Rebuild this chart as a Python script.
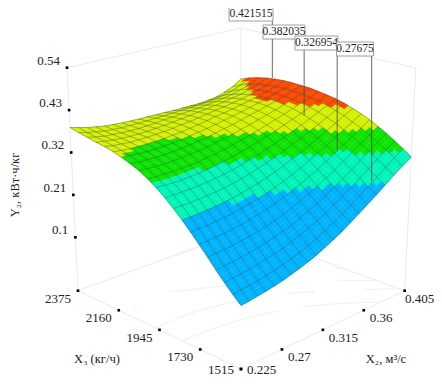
import numpy as np, pandas as pd, altair as alt
alt.data_transformers.disable_max_rows()

# ---------- data ----------
X3_GRID_START, X3_GRID_STEP = 1515, 43      # rows of HEIGHTS
X2_GRID_START, X2_GRID_STEP = 0.225, 0.009  # columns of HEIGHTS
# Y2 in thousandths, estimated from the surface edges and colour boundaries
HEIGHTS = [
 [113,115,118,121,125,129,135,141,148,156,166,177,188,202,216,231,246,262,279,294,309],
 [131,133,136,138,142,146,151,157,164,172,181,192,204,216,230,245,260,276,293,309,324],
 [151,153,155,158,161,165,170,175,182,190,199,209,220,232,246,260,275,291,307,323,338],
 [172,174,176,178,181,185,189,195,201,208,217,227,237,249,262,276,290,306,321,337,352],
 [195,196,197,199,202,205,209,214,220,227,236,245,255,266,278,291,305,320,335,350,364],
 [217,218,219,221,223,226,230,235,240,247,254,263,272,283,294,307,320,333,347,362,376],
 [239,240,240,242,244,246,250,254,259,265,272,280,289,299,310,321,333,346,359,372,386],
 [260,260,261,262,264,266,269,273,278,283,290,297,305,315,324,335,346,358,370,382,394],
 [280,280,280,281,282,284,287,290,295,300,306,313,320,329,338,347,357,368,379,390,402],
 [298,298,298,298,299,301,303,306,310,315,321,327,334,341,350,358,367,377,387,397,408],
 [315,314,313,313,314,315,318,321,324,329,334,339,346,353,360,368,376,385,394,403,412],
 [329,327,327,326,327,328,330,333,336,340,345,350,356,362,369,376,383,391,399,407,416],
 [341,339,338,337,338,339,341,343,346,350,354,359,364,370,376,382,388,395,403,410,419],
 [350,348,347,346,346,347,349,351,354,357,361,366,370,375,381,386,392,398,405,412,420],
 [358,356,354,353,353,354,355,357,360,363,366,370,374,379,383,388,394,399,406,413,421],
 [364,361,359,358,358,358,359,361,363,366,369,373,377,380,384,389,393,399,405,412,421],
 [369,365,363,361,361,361,362,363,365,368,370,373,377,380,383,387,391,396,402,409,419],
 [372,368,365,363,362,362,362,364,365,367,370,372,375,377,380,383,387,391,397,405,416],
 [376,371,367,365,363,362,362,363,364,366,367,369,371,372,374,377,380,384,391,399,411],
 [380,374,370,366,364,362,362,362,362,363,363,364,365,366,367,368,371,375,381,391,404],
 [385,379,373,369,365,363,361,360,359,359,358,358,357,357,357,357,359,362,369,379,395],
]
X3_TICKS = [2375, 2160, 1945, 1730, 1515]
X2_TICKS = [0.225, 0.27, 0.315, 0.36, 0.405]
Y_TICKS = [0.54, 0.43, 0.32, 0.21, 0.1]
Y_LABELS = ['0.54', '0.43', '0.32', '0.21', '0.1']
X2_LABELS = ['0.225', '0.27', '0.315', '0.36', '0.405']
PIN_VALUES = [0.421515, 0.382035, 0.326954, 0.27675]
PIN_LABELS = ['0.421515', '0.382035', '0.326954', '0.27675']
PIN_X3 = [2214, 1930, 1728, 1541]
PIN_X2 = [0.404, 0.378, 0.371, 0.369]
BAND_LIMITS = [0.263, 0.32, 0.358, 0.397]
BAND_COLOURS = ['#00B4FF', '#00F5B9', '#0CE600', '#D6F000', '#FF4A00']

# ---------- view ----------
Y_FLOOR, Y_TOP = -0.0385, 0.54
FONT = 'Liberation Serif'
F = (241, 369.0); L = (78, 290.7); R = (404.7, 290.7); B = (241, 231.0)
SCALE_F, SCALE_L, SCALE_R, SCALE_B = 419.0, 385.5, 385.0, 351.0
T = np.array(HEIGHTS) / 1000
N = T.shape[0] - 1
def ua(x3): return (x3 - X3_GRID_START) / (N * X3_GRID_STEP)
def ub(x2): return (x2 - X2_GRID_START) / (N * X2_GRID_STEP)
def project(a, b, y):
    w = [(1 - a) * (1 - b), a * (1 - b), (1 - a) * b, a * b]
    bx = w[0] * F[0] + w[1] * L[0] + w[2] * R[0] + w[3] * B[0]
    by = w[0] * F[1] + w[1] * L[1] + w[2] * R[1] + w[3] * B[1]
    s = w[0] * SCALE_F + w[1] * SCALE_L + w[2] * SCALE_R + w[3] * SCALE_B
    h = y - Y_FLOOR
    return float(bx + (bx - 241) / 163 * 11 * h / (Y_TOP - Y_FLOOR)), float(by - s * h)

xs = alt.Scale(domain=[8, 434], range=[0, 426], nice=False, zero=False)
ys = alt.Scale(domain=[8, 376], range=[0, 368], nice=False, zero=False)
X = alt.X('x:Q', scale=xs, axis=None)
YY = alt.Y('y:Q', scale=ys, axis=None)

# surface patches, back to front, each mesh cell split in four for the colour steps
rows = []; cid = 0; K = 2
for i in range(N - 1, -1, -1):
    for j in range(N - 1, -1, -1):
        for si in range(K - 1, -1, -1):
            for sj in range(K - 1, -1, -1):
                def val(u, v):
                    return (1-u)*(1-v)*T[i, j] + u*(1-v)*T[i+1, j] + (1-u)*v*T[i, j+1] + u*v*T[i+1, j+1]
                cs = [(si/K, sj/K), ((si+1)/K, sj/K), ((si+1)/K, (sj+1)/K), (si/K, (sj+1)/K)]
                vs = [val(*c) for c in cs]; m = float(np.mean(vs))
                for o, (c, v) in enumerate(zip(cs, vs)):
                    x, y = project((i + c[0]) / N, (j + c[1]) / N, v)
                    rows.append(dict(c=cid, o=o, x=round(x, 1), y=round(y, 1), v=round(m, 4)))
                cid += 1
band = alt.Scale(type='threshold', domain=BAND_LIMITS, range=BAND_COLOURS)
surf = alt.Chart(pd.DataFrame(rows)).mark_line(interpolate='linear-closed', strokeWidth=0.4).encode(
    x=X, y=YY, order='o:Q', detail='c:N',
    fill=alt.Fill('v:Q', scale=band, legend=None), stroke=alt.Stroke('v:Q', scale=band, legend=None))

# mesh
ml = []
for i in range(N + 1):
    for j in range(N + 1):
        x, y = project(i / N, j / N, T[i, j]); ml.append(dict(l=f"a{i}", o=j, x=x, y=y))
for j in range(N + 1):
    for i in range(N + 1):
        x, y = project(i / N, j / N, T[i, j]); ml.append(dict(l=f"b{j}", o=i, x=x, y=y))
mesh = alt.Chart(pd.DataFrame(ml)).mark_line(color='#1c3a3a', strokeWidth=.6, opacity=.6).encode(
    x=X, y=YY, order='o:Q', detail='l:N')

# pale contours on the floor
fl = []; fid = 0
for lev in BAND_LIMITS:
    for i in range(N):
        for j in range(N):
            c = [(i, j), (i+1, j), (i+1, j+1), (i, j+1)]; cr = []
            for n in range(4):
                p, q = c[n], c[(n+1) % 4]; vp, vq = T[p], T[q]
                if (vp - lev) * (vq - lev) < 0:
                    t = (lev - vp) / (vq - vp)
                    cr.append(((p[0] + t*(q[0]-p[0])) / N, (p[1] + t*(q[1]-p[1])) / N))
            if len(cr) == 2:
                for o, (a, b) in enumerate(cr):
                    x, y = project(a, b, Y_FLOOR); fl.append(dict(l=fid, o=o, x=x, y=y))
                fid += 1
floor = alt.Chart(pd.DataFrame(fl)).mark_line(color='#f1f1e6', strokeWidth=1).encode(
    x=X, y=YY, order='o:Q', detail='l:N')

# box edges
seg = []
EDGES = [((1,0,Y_FLOOR),(1,0,Y_TOP)), ((0,1,Y_FLOOR),(0,1,Y_TOP)), ((1,1,Y_FLOOR),(1,1,Y_TOP)),
         ((1,0,Y_TOP),(1,1,Y_TOP)), ((0,1,Y_TOP),(1,1,Y_TOP)),
         ((0,0,Y_FLOOR),(1,0,Y_FLOOR)), ((0,0,Y_FLOOR),(0,1,Y_FLOOR)),
         ((1,0,Y_FLOOR),(1,1,Y_FLOOR)), ((0,1,Y_FLOOR),(1,1,Y_FLOOR))]
for n, ends in enumerate(EDGES):
    for o, e in enumerate(ends):
        x, y = project(*e); seg.append(dict(l=n, o=o, x=x, y=y))
walls = alt.Chart(pd.DataFrame(seg)).mark_line(color='#ebebeb', strokeWidth=1).encode(
    x=X, y=YY, order='o:Q', detail='l:N')

# ticks and their labels (the page leaves no room below y=376 or right of x=434)
tk = []; lb = []
LOW = 370
RIGHT_START = 405
for v, s in zip(Y_TICKS, Y_LABELS):
    x, y = project(1, 0, v); tk.append(dict(x=x, y=y)); lb.append(dict(x=x-7, y=y-7, t=s, al='right'))
for v in X3_TICKS:
    x, y = project(ua(v), 0, Y_FLOOR); tk.append(dict(x=x, y=y)); lb.append(dict(x=x-7, y=min(y+8, LOW), t=str(v), al='right'))
for v, s in zip(X2_TICKS, X2_LABELS):
    x, y = project(0, ub(v), Y_FLOOR); tk.append(dict(x=x, y=y)); lb.append(dict(x=min(x+6, RIGHT_START), y=min(y+8, LOW), t=s, al='left'))
dots = alt.Chart(pd.DataFrame(tk)).mark_square(size=7, color='black', opacity=1).encode(x=X, y=YY)
lbdf = pd.DataFrame(lb)
l1 = alt.Chart(lbdf[lbdf.al == 'right']).mark_text(font=FONT, fontSize=13, align='right', baseline='middle', color='#222').encode(x=X, y=YY, text='t:N')
l2 = alt.Chart(lbdf[lbdf.al == 'left']).mark_text(font=FONT, fontSize=13, align='left', baseline='middle', color='#222').encode(x=X, y=YY, text='t:N')
titles = pd.DataFrame([dict(x=97, y=359, t='X₃ (кг/ч)', an=0), dict(x=386, y=359, t='X₂, м³/с', an=0),
                       dict(x=15, y=185, t='Y₂, кВт·ч/кг', an=270)])
tit = alt.Chart(titles).mark_text(font=FONT, fontSize=12.5, color='#222', baseline='middle', align='center').encode(
    x=X, y=YY, text='t:N', angle=alt.Angle('an:Q', scale=None))

# value flags with their leader lines
BOX = [(229, 273, 7, 21), (263, 305, 25, 39), (295, 338, 36, 50), (336.5, 373.5, 42, 56)]
pinl = []
for v, s, x3, x2, bx in zip(PIN_VALUES, PIN_LABELS, PIN_X3, PIN_X2, BOX):
    x, y = project(ua(x3), ub(x2), v)
    lay = alt.Chart(pd.DataFrame([dict(x=x, y=y, x0=bx[0], x1=bx[1], y0=bx[2], y1=bx[3], t=s,
                                       xm=(bx[0]+bx[1])/2, ym=(bx[2]+bx[3])/2)]))
    pinl.append(lay.mark_rule(color='#444', strokeWidth=.8).encode(x=X, y=YY, y2=alt.Y2('y1:Q')))
    pinl.append(lay.mark_rect(fill='white', stroke='#888', strokeWidth=.8).encode(
        x=alt.X('x0:Q', scale=xs, axis=None), x2='x1:Q', y=alt.Y('y0:Q', scale=ys, axis=None), y2='y1:Q'))
    pinl.append(lay.mark_text(font=FONT, fontSize=11.5, color='#222').encode(
        x=alt.X('xm:Q', scale=xs, axis=None), y=alt.Y('ym:Q', scale=ys, axis=None), text='t:N'))

chart = alt.layer(walls, floor, surf, mesh, dots, l1, l2, tit, *pinl).properties(
    width=426, height=368, padding=0, autosize=alt.AutoSizeParams(type='none'), background='white'
).configure_view(stroke=None)
chart.save("out.html", embed_options={"renderer": "svg", "actions": False})
